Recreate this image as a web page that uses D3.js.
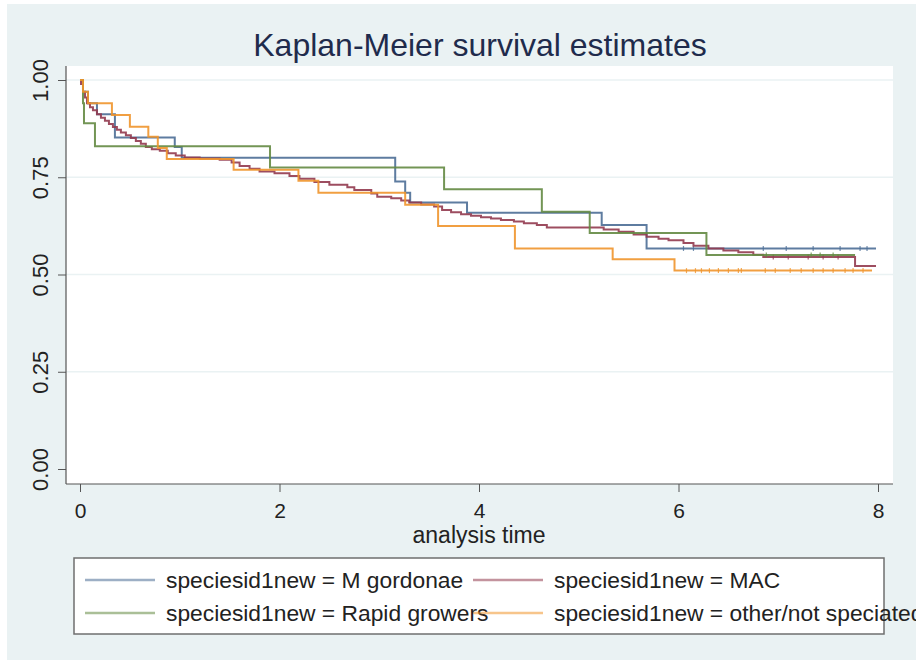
<!DOCTYPE html>
<html>
<head>
<meta charset="utf-8">
<script src="https://d3js.org/d3.v7.min.js"></script>
<style>
  body { margin: 0; background: #fff; }
  svg { display: block; font-family: "Liberation Sans", Arial, sans-serif; }
</style>
</head>
<body>
<svg id="chart" width="916" height="660"></svg>
<script>
// x / y ticks
const xTicks = [0, 2, 4, 6, 8];
const yTicks = [0, 0.25, 0.5, 0.75, 1];

// M gordonae
const gordTime = [0, 0.03, 0.08, 0.17, 0.35, 0.95, 1.02, 3.16, 3.26, 3.31, 3.88, 5.23, 5.68];
const gordSurv = [1, 0.97, 0.94, 0.912, 0.852, 0.828, 0.80, 0.739, 0.71, 0.685, 0.659, 0.627, 0.567];
const gordEnd = 7.98;
const gordCens = [6.05, 6.15, 6.85, 7.08, 7.35, 7.62, 7.82, 7.89];

// MAC
const macTime = [0, 0.01, 0.03, 0.05, 0.07, 0.10, 0.13, 0.17, 0.21, 0.25, 0.29, 0.33, 0.37, 0.41, 0.46,
  0.51, 0.56, 0.61, 0.66, 0.72, 0.80, 0.88, 0.96, 1.05, 1.20, 1.40, 1.52, 1.60, 1.70, 1.80, 1.95,
  2.10, 2.20, 2.35, 2.50, 2.68, 2.75, 2.92, 2.98, 3.12, 3.22, 3.30, 3.42, 3.55, 3.63, 3.72, 3.82,
  3.92, 4.02, 4.12, 4.22, 4.35, 4.45, 4.58, 4.68, 5.25, 5.40, 5.55, 5.68, 5.80, 5.90, 6.05, 6.15,
  6.30, 6.45, 6.60, 6.75, 6.85, 7.77];
const macSurv = [1, 0.99, 0.97, 0.955, 0.94, 0.93, 0.922, 0.912, 0.903, 0.895, 0.887, 0.879, 0.872, 0.865, 0.858,
  0.851, 0.843, 0.836, 0.828, 0.822, 0.818, 0.812, 0.806, 0.801, 0.798, 0.795, 0.788, 0.779, 0.772, 0.765, 0.760,
  0.753, 0.746, 0.738, 0.731, 0.724, 0.717, 0.708, 0.700, 0.696, 0.690, 0.685, 0.680, 0.675, 0.666, 0.660, 0.655,
  0.651, 0.647, 0.644, 0.640, 0.636, 0.632, 0.627, 0.621, 0.616, 0.610, 0.603, 0.597, 0.592, 0.588, 0.581, 0.574,
  0.567, 0.562, 0.557, 0.551, 0.545, 0.522];
const macEnd = 7.98;
const macCens = [6.95, 7.1, 7.3, 7.45, 7.6];

// Rapid growers
const rapidTime = [0, 0.03, 0.04, 0.15, 1.905, 3.65, 4.63, 5.11, 6.28];
const rapidSurv = [1, 0.94, 0.889, 0.83, 0.775, 0.719, 0.661, 0.607, 0.55];
const rapidEnd = 7.77;
const rapidCens = [6.88, 7.33, 7.42, 7.55];

// other/not speciated
const otherTime = [0, 0.03, 0.08, 0.32, 0.5, 0.685, 0.78, 0.87, 1.54, 2.19, 2.39, 3.26, 3.59, 4.36, 5.34, 5.96];
const otherSurv = [1, 0.97, 0.94, 0.91, 0.88, 0.854, 0.825, 0.797, 0.769, 0.741, 0.71, 0.679, 0.625, 0.567, 0.539, 0.51];
const otherEnd = 7.94;
const otherCens = [6.08, 6.17, 6.23, 6.31, 6.40, 6.50, 6.60, 6.63, 6.87, 6.97, 7.12, 7.23, 7.35, 7.45, 7.55, 7.67, 7.75, 7.85];

const series = [
  { label: "speciesid1new = M gordonae", time: gordTime, surv: gordSurv, end: gordEnd, cens: gordCens, color: "#4c6e96" },
  { label: "speciesid1new = MAC", time: macTime, surv: macSurv, end: macEnd, cens: macCens, color: "#923a4f" },
  { label: "speciesid1new = Rapid growers", time: rapidTime, surv: rapidSurv, end: rapidEnd, cens: rapidCens, color: "#648a42" },
  { label: "speciesid1new = other/not speciated", time: otherTime, surv: otherSurv, end: otherEnd, cens: otherCens, color: "#f0952c" }
];

const svg = d3.select("#chart");

// outer background
svg.append("rect").attr("x", 7).attr("y", 4).attr("width", 909).attr("height", 656).attr("fill", "#eaf2f3");

const plot = { left: 66, top: 66, right: 893, bottom: 484 };
svg.append("rect").attr("x", plot.left).attr("y", plot.top)
  .attr("width", plot.right - plot.left).attr("height", plot.bottom - plot.top).attr("fill", "#fff");

const x = d3.scaleLinear().domain([0, 8]).range([80, 878]);
const y = d3.scaleLinear().domain([0, 1]).range([469, 80]);

// gridlines
svg.append("g").selectAll("line").data(yTicks.filter(d => d > 0)).join("line")
  .attr("x1", plot.left).attr("x2", plot.right)
  .attr("y1", d => y(d)).attr("y2", d => y(d))
  .attr("stroke", "#eaf2f3").attr("stroke-width", 1.5);

// title
svg.append("text").attr("x", 480).attr("y", 56).attr("text-anchor", "middle")
  .attr("font-size", 32).attr("fill", "#1f2b4c").text("Kaplan-Meier survival estimates");

// axes
const yAxis = svg.append("g").attr("transform", `translate(${plot.left},0)`)
  .call(d3.axisLeft(y).tickValues(yTicks).tickFormat(d3.format(".2f")).tickSize(8).tickSizeOuter(0));
yAxis.select(".domain").remove();
yAxis.selectAll("line").attr("stroke", "#555");
yAxis.selectAll("text")
  .attr("transform", "rotate(-90)").attr("x", 0).attr("y", -18).attr("dy", 0)
  .style("text-anchor", "middle").attr("font-size", 22).attr("fill", "#222");

const xAxis = svg.append("g").attr("transform", `translate(0,${plot.bottom})`)
  .call(d3.axisBottom(x).tickValues(xTicks).tickFormat(d3.format("d")).tickSize(8).tickPadding(11).tickSizeOuter(0));
xAxis.select(".domain").remove();
xAxis.selectAll("line").attr("stroke", "#555");
xAxis.selectAll("text").attr("font-size", 21).attr("fill", "#222");

svg.append("line").attr("x1", plot.left).attr("x2", plot.left).attr("y1", plot.top).attr("y2", plot.bottom)
  .attr("stroke", "#555").attr("stroke-width", 1.2);
svg.append("line").attr("x1", plot.left).attr("x2", plot.right).attr("y1", plot.bottom).attr("y2", plot.bottom)
  .attr("stroke", "#555").attr("stroke-width", 1.2);

svg.append("text").attr("x", 479).attr("y", 543).attr("text-anchor", "middle")
  .attr("font-size", 23).attr("fill", "#222").text("analysis time");

// curves
const line = d3.line().x(d => x(d[0])).y(d => y(d[1])).curve(d3.curveStepAfter);

series.forEach(s => {
  const pts = s.time.map((t, i) => [t, s.surv[i]]);
  pts.push([s.end, s.surv[s.surv.length - 1]]);
  svg.append("path").datum(pts).attr("d", line)
    .attr("fill", "none").attr("stroke", s.color).attr("stroke-width", 2).attr("stroke-opacity", 0.9);

  // censoring ticks
  svg.append("g").selectAll("line").data(s.cens).join("line")
    .attr("x1", d => x(d)).attr("x2", d => x(d))
    .attr("y1", d => y(s.surv[d3.bisectRight(s.time, d) - 1]) - 2.5)
    .attr("y2", d => y(s.surv[d3.bisectRight(s.time, d) - 1]) + 2.5)
    .attr("stroke", s.color).attr("stroke-width", 1.2).attr("stroke-opacity", 0.8);
});

// legend (last label runs past the box and the page edge, as in the original)
svg.append("rect").attr("x", 74).attr("y", 558).attr("width", 810).attr("height", 76)
  .attr("fill", "#fff").attr("stroke", "#6f6f6f").attr("stroke-width", 1.5);

const legPos = [[85, 580], [473, 580], [85, 613], [473, 613]];
series.forEach((s, i) => {
  const [lx, ly] = legPos[i];
  svg.append("line").attr("x1", lx).attr("x2", lx + 70).attr("y1", ly).attr("y2", ly)
    .attr("stroke", s.color).attr("stroke-width", 2.5).attr("stroke-opacity", 0.55);
  svg.append("text").attr("x", lx + 81).attr("y", ly + 8).attr("font-size", 22.8)
    .attr("fill", "#222").text(s.label);
});
</script>
</body>
</html>
